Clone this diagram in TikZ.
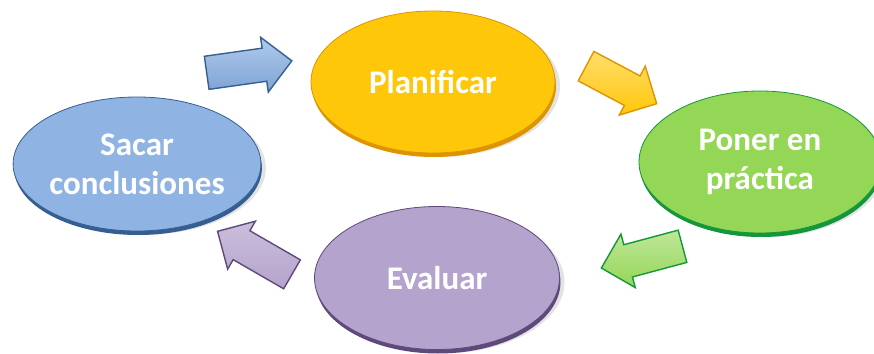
\documentclass[tikz,border=0pt]{standalone}
\usepackage{fontspec}
\setmainfont{Carlito}
\usetikzlibrary{shapes.geometric,shapes.arrows,shadows}
\definecolor{yelF}{RGB}{255,199,10}
\definecolor{yelD}{RGB}{222,148,0}
\definecolor{bluF}{RGB}{143,180,228}
\definecolor{bluD}{RGB}{54,95,145}
\definecolor{grnF}{RGB}{148,214,86}
\definecolor{grnD}{RGB}{20,150,60}
\definecolor{purF}{RGB}{180,163,204}
\definecolor{purD}{RGB}{95,73,122}
\tikzset{
  stage/.style={ellipse, inner sep=0pt, text=white, align=center,
    font=\bfseries\fontsize{33}{39}\selectfont,
    line width=0.8pt,
    drop shadow={shadow xshift=5pt, shadow yshift=-4pt, opacity=0.22},
    drop shadow={shadow xshift=1pt, shadow yshift=-4pt, opacity=1, fill=#1}},
  blockarrow/.style={single arrow, inner sep=0pt, text height=32pt, text depth=0pt,
    single arrow head extend=11pt, line width=1.4pt},
}
\begin{document}
\begin{tikzpicture}[x=1pt,y=1pt]
\useasboundingbox (0,0) rectangle (874,353);
\begin{scope}
\clip (0,0) rectangle (874,353);
% ellipses
\node[stage=yelD, minimum width=244pt, minimum height=142pt, fill=yelF, draw=yelD] (plan) at (433,271) {Planificar};
\node[stage=bluD, minimum width=240pt, minimum height=134pt, fill=bluF, draw=bluD] (concl) at (137,189) {Sacar\\conclusiones};
\node[stage=grnD, minimum width=242pt, minimum height=142pt, fill=grnF, draw=grnD] (prac) at (760,191) {Poner en\\práctica};
\node[stage=purD, minimum width=245pt, minimum height=143pt, fill=purF, draw=purD] (eval) at (437,75) {Evaluar};
% block arrows
\node[blockarrow, minimum height=86pt, rotate=8, top color=bluF!70!white, bottom color=bluF!80!bluD, draw=bluD] (arrA) at (241,285) {};
\node[blockarrow, minimum height=80pt, rotate=-28, top color=yelF!60!white, bottom color=yelF, draw=yelD] (arrB) at (614,272) {};
\node[blockarrow, minimum height=84pt, rotate=195, top color=grnF!60!white, bottom color=grnF, draw=grnD] (arrC) at (650,98) {};
\node[blockarrow, minimum height=86pt, rotate=150, top color=purF!70!white, bottom color=purF, draw=purD] (arrD) at (262,96) {};
\end{scope}
\end{tikzpicture}
\end{document}
